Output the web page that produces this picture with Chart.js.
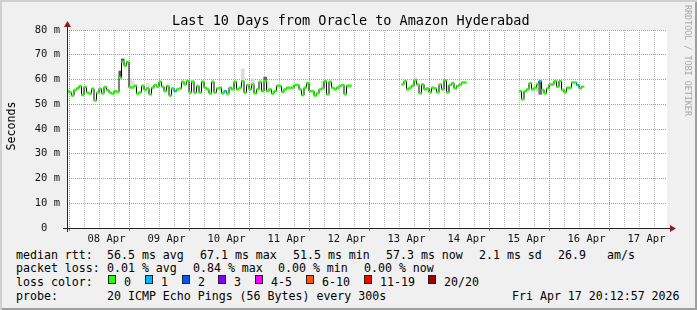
<!DOCTYPE html>
<html>
<head>
<meta charset="utf-8">
<script src="https://cdn.jsdelivr.net/npm/chart.js@4.4.1/dist/chart.umd.min.js"></script>
<style>
  body { margin: 0; background: #fff; }
  #frame {
    position: relative; width: 697px; height: 310px; overflow: hidden;
    background: #f0f0f0;
    box-shadow: inset 2px 2px 0 #cfcfcf, inset -2px -2px 0 #9e9e9e;
    font-family: "DejaVu Sans Mono", monospace; color: #000;
  }
  #c { position: absolute; left: 0; top: 0; }
  .t { position: absolute; white-space: pre; }
  #title { left: 172px; top: 12px; font-size: 13.5px; line-height: 16px; }
  #ylab { left: -19px; top: 119px; width: 60px; text-align: center; font-size: 11.6px; line-height: 14px; transform: rotate(-90deg); }
  #mark { left: 683px; top: 5px; font-size: 8.4px; color: #a8a8a8; writing-mode: vertical-rl; }
  .row { position: absolute; left: 0; height: 14px; font-size: 11.6px; line-height: 14px; }
  .row span { position: absolute; top: 0; white-space: pre; }
  .box { position: absolute; top: 3px; width: 8px; height: 9px; box-sizing: border-box; border: 1px solid #222; }
</style>
</head>
<body>
<div id="frame">
  <canvas id="c" width="697" height="248"></canvas>
  <div class="t" id="title">Last 10 Days from Oracle to Amazon Hyderabad</div>
  <div class="t" id="ylab">Seconds</div>
  <div class="t" id="mark">RRDTOOL / TOBI OETIKER</div>

  <div class="row" style="top:248px">
    <span style="left:16px">median rtt:</span>
    <span style="left:107px">56.5 ms avg</span>
    <span style="left:200px">67.1 ms max</span>
    <span style="left:293px">51.5 ms min</span>
    <span style="left:386px">57.3 ms now</span>
    <span style="left:479px">2.1 ms sd</span>
    <span style="left:558px">26.9</span>
    <span style="left:607px">am/s</span>
  </div>
  <div class="row" style="top:261px">
    <span style="left:16px">packet loss:</span>
    <span style="left:107px">0.01 % avg</span>
    <span style="left:193px">0.84 % max</span>
    <span style="left:278px">0.00 % min</span>
    <span style="left:364px">0.00 % now</span>
  </div>
  <div class="row" id="lossRow" style="top:275px">
    <span style="left:16px">loss color:</span>
  </div>
  <div class="row" style="top:289px">
    <span style="left:16px">probe:</span>
    <span style="left:107px">20 ICMP Echo Pings (56 Bytes) every 300s</span>
    <span style="left:512px">Fri Apr 17 20:12:57 2026</span>
  </div>
</div>

<script>
// hours are counted from 08 Apr 00:00; graph spans 07 Apr 20:12 .. 17 Apr 20:12
const rangeStart = -3.8;
const rangeEnd = 236.2;
const dayLabels = ['08 Apr', '09 Apr', '10 Apr', '11 Apr', '12 Apr', '13 Apr', '14 Apr', '15 Apr', '16 Apr', '17 Apr'];
const gridHours = [0, 6, 12, 18, 24, 30, 36, 42, 48, 54, 60, 66, 72, 78, 84, 90, 96, 102, 108, 114, 120,
  126, 132, 138, 144, 150, 156, 162, 168, 174, 180, 186, 192, 198, 204, 210, 216, 222, 228, 234];
const rttTicks = [0, 5, 10, 15, 20, 25, 30, 35, 40, 45, 50, 55, 60, 65, 70, 75, 80];

// median rtt (ms), hourly, three runs separated by gaps
const seg1Start = -3.5;
const seg1Rtt = [55.3, 54.8, 53.5, 55.8, 56.4, 57.4, 53.7, 57.0, 54.7, 54.3, 56.3, 51.5, 54.7, 56.3, 54.4, 57.0,
  55.7, 54.7, 54.3, 55.3, 55.0, 60.7, 67.1, 65.6, 67.1, 56.8, 56.8, 57.5, 54.3, 54.8, 57.5, 55.8, 56.4, 54.0,
  56.7, 57.8, 57.1, 59.1, 57.1, 55.3, 57.4, 53.5, 56.4, 55.3, 56.0, 56.4, 59.1, 58.0, 59.3, 54.7, 59.1, 54.7,
  57.4, 54.7, 59.1, 56.7, 56.0, 54.4, 59.1, 54.7, 56.4, 56.7, 54.4, 55.3, 54.3, 56.7, 56.0, 59.1, 56.0, 56.7,
  59.3, 54.7, 57.8, 56.0, 58.0, 54.4, 56.0, 59.1, 55.3, 59.3, 55.3, 56.0, 54.3, 55.3, 57.5, 57.4, 55.0, 56.0,
  56.7, 56.7, 56.7, 57.8, 57.8, 56.0, 53.7, 56.7, 58.5, 55.3, 55.3, 53.5, 54.4, 56.0, 56.4, 59.3, 54.0, 59.1,
  56.7, 56.0, 56.7, 57.4, 57.8, 54.1, 57.5, 57.5];
const seg2Start = 130.5;
const seg2Rtt = [58.0, 59.3, 56.0, 56.7, 57.5, 59.7, 58.0, 54.4, 58.0, 56.0, 56.4, 54.8, 56.7, 56.4, 54.8, 58.0,
  56.0, 59.7, 54.8, 57.8, 58.5, 56.4, 57.4, 58.0, 58.8, 58.8];
const seg3Start = 177.5;
const seg3Rtt = [55.3, 52.0, 55.3, 56.0, 58.5, 56.0, 56.7, 58.0, 59.3, 55.8, 54.4, 56.4, 58.0, 58.0, 59.3, 57.1,
  59.3, 55.8, 54.8, 56.7, 56.7, 58.8, 58.8, 57.8, 56.4, 57.1];

// hours where 1 of 20 pings was lost
const lossOneHours = [39.5, 59.5, 185.5, 200.5];

// smoke (spread of the 20 pings) where it is visible
const smokeHours = [17.5, 18.5, 21.5, 22.5, 28.5, 46.5, 66.5, 70.5, 75.5, 76.5, 98.5, 135.5, 148.5, 184.5, 185.5];
const smokeLo = [60.7, 67.1, 56.8, 56.8, 56.4, 59.1, 59.3, 58.0, 59.3, 55.5, 56.4, 59.7, 54.8, 55.0, 54.0];
const smokeHi = [63.4, 68.3, 60.4, 59.4, 58.4, 60.0, 64.3, 60.3, 61.0, 59.2, 59.3, 60.8, 57.5, 58.5, 59.3];
const smokeShade = [0.65, 0.65, 0.15, 0.12, 0.12, 0.12, 0.14, 0.14, 0.6, 0.12, 0.12, 0.12, 0.14, 0.14, 0.55];

const lossColors = ['#26ff00', '#00b8ff', '#0059ff', '#7e00ff', '#ff00ff', '#ff5500', '#ff0000', '#a10000'];
const lossNames = ['0', '1', '2', '3', '4-5', '6-10', '11-19', '20/20'];

const majorGrid = 'rgba(215,100,100,0.8)';
const minorGrid = 'rgba(160,160,160,0.7)';

// legend swatches
const boxLeft = [108, 145, 182, 218, 255, 306, 364, 428];
const lossRow = document.getElementById('lossRow');
lossNames.forEach((n, i) => {
  const b = document.createElement('span');
  b.className = 'box';
  b.style.left = boxLeft[i] + 'px';
  b.style.background = lossColors[i];
  lossRow.appendChild(b);
  const t = document.createElement('span');
  t.style.left = (boxLeft[i] + 16) + 'px';
  t.textContent = n;
  lossRow.appendChild(t);
});

function run(start, values) {
  return values.map((v, i) => ({ x: start + i, y: v }));
}
const medianData = [
  ...run(seg1Start, seg1Rtt), { x: seg1Start + seg1Rtt.length, y: null },
  ...run(seg2Start, seg2Rtt), { x: seg2Start + seg2Rtt.length, y: null },
  ...run(seg3Start, seg3Rtt)
];

const frameDeco = {
  id: 'frameDeco',
  beforeDraw(chart) {
    const { ctx, chartArea: a } = chart;
    ctx.save();
    ctx.fillStyle = '#fff';
    ctx.fillRect(a.left, a.top, a.right - a.left, a.bottom - a.top);
    ctx.restore();
  },
  afterDraw(chart) {
    const { ctx, chartArea: a } = chart;
    ctx.save();
    ctx.strokeStyle = '#222';
    ctx.lineWidth = 1;
    ctx.beginPath();
    ctx.moveTo(a.left + 0.5, a.bottom + 4);
    ctx.lineTo(a.left + 0.5, a.top - 5);
    ctx.moveTo(a.left - 4, a.bottom + 0.5);
    ctx.lineTo(a.right + 4, a.bottom + 0.5);
    ctx.stroke();
    ctx.fillStyle = '#8f1a1a';
    ctx.beginPath();
    ctx.moveTo(a.left - 3, a.top - 3);
    ctx.lineTo(a.left + 4, a.top - 3);
    ctx.lineTo(a.left + 0.5, a.top - 9);
    ctx.closePath();
    ctx.fill();
    ctx.beginPath();
    ctx.moveTo(a.right + 3, a.bottom - 3);
    ctx.lineTo(a.right + 3, a.bottom + 4);
    ctx.lineTo(a.right + 9, a.bottom + 0.5);
    ctx.closePath();
    ctx.fill();
    ctx.restore();
  }
};

const tickFont = { family: 'DejaVu Sans Mono', size: 10.5 };

new Chart(document.getElementById('c'), {
  type: 'line',
  data: {
    datasets: [{
      label: 'median rtt',
      data: medianData,
      order: 0,
      stepped: 'middle',
      spanGaps: false,
      borderColor: '#000',
      borderWidth: 1,
      pointStyle: 'line',
      pointRadius: 1.5,
      pointHoverRadius: 1.5,
      pointBorderWidth: 2.4,
      pointBorderColor: c => (c.raw && lossOneHours.includes(c.raw.x)) ? lossColors[1] : lossColors[0]
    }, {
      type: 'bar',
      label: 'smoke',
      order: 1,
      data: smokeHours.map((h, i) => ({ x: h, y: [smokeLo[i], smokeHi[i]] })),
      backgroundColor: smokeShade.map(s => {
        const g = Math.round(255 * (1 - s));
        return `rgb(${g},${g},${g})`;
      }),
      barThickness: 3,
      borderWidth: 0
    }]
  },
  options: {
    responsive: false,
    animation: false,
    events: [],
    layout: { padding: { left: 0, top: 30, right: 30, bottom: 0 } },
    plugins: { legend: { display: false }, tooltip: { enabled: false }, title: { display: false } },
    scales: {
      x: {
        type: 'linear',
        min: rangeStart,
        max: rangeEnd,
        offset: false,
        afterBuildTicks: ax => { ax.ticks = gridHours.map(v => ({ value: v })); },
        afterFit: ax => { ax.height = 20; },
        ticks: {
          autoSkip: false,
          maxRotation: 0,
          padding: 2,
          color: '#111',
          font: tickFont,
          callback: v => (v % 24 === 12 ? dayLabels[(v - 12) / 24] : '')
        },
        grid: {
          color: c => (c.tick && c.tick.value % 24 === 0) ? majorGrid : minorGrid,
          tickColor: c => (c.tick && c.tick.value % 24 === 0) ? '#c86464' : 'rgba(0,0,0,0)',
          tickLength: 3,
          lineWidth: 1
        },
        border: { display: false, dash: [1, 1] }
      },
      y: {
        min: 0,
        max: 80,
        afterBuildTicks: ax => { ax.ticks = rttTicks.map(v => ({ value: v })); },
        afterFit: ax => { ax.width = 67; },
        ticks: {
          padding: 7,
          color: '#111',
          font: tickFont,
          callback: v => (v === 0 ? '0  ' : (v % 10 === 0 ? v + ' m' : ''))
        },
        grid: {
          drawTicks: false,
          color: c => (c.tick && c.tick.value % 10 === 0) ? majorGrid : minorGrid,
          lineWidth: 1
        },
        border: { display: false, dash: [1, 1] }
      }
    }
  },
  plugins: [frameDeco]
});
</script>
</body>
</html>
